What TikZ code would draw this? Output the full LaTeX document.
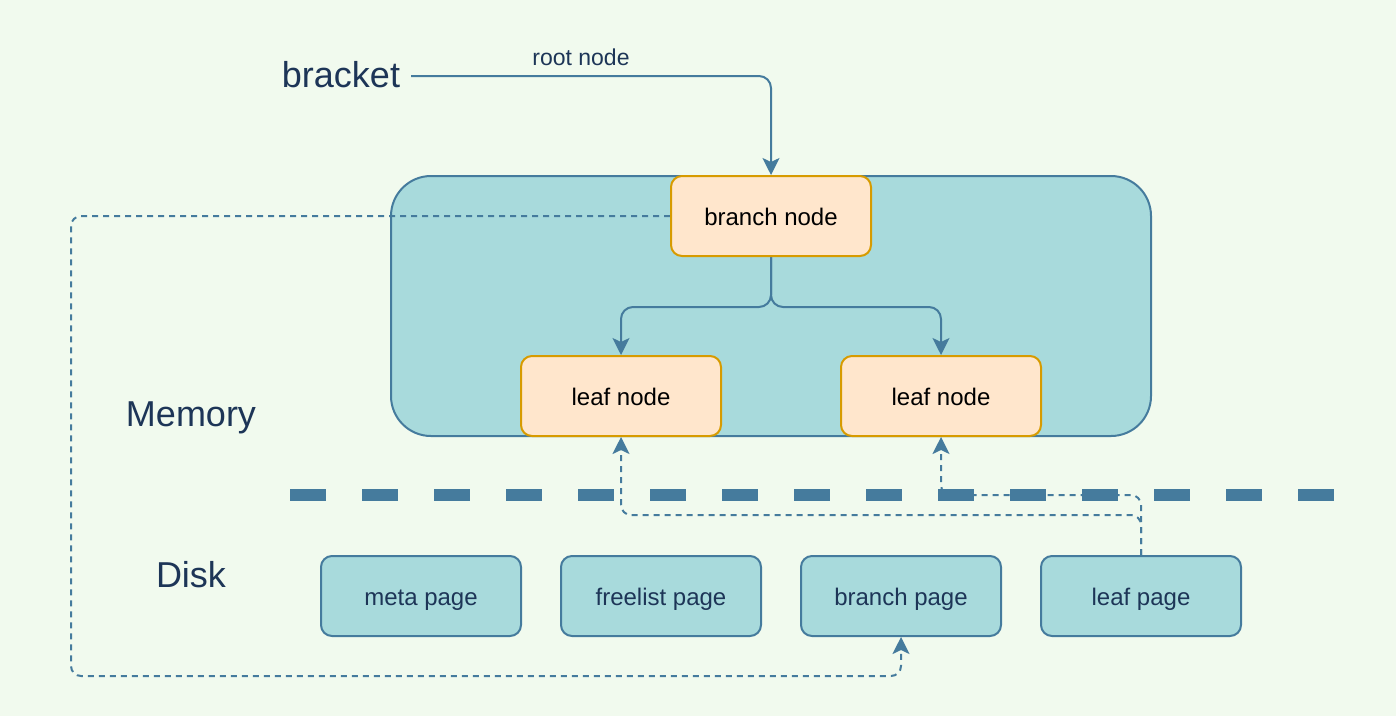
\documentclass[tikz,border=0pt]{standalone}
\usepackage{fontspec}
\setmainfont{Liberation Sans}
\usetikzlibrary{arrows.meta}
\definecolor{bgc}{HTML}{F1FAEE}
\definecolor{tealc}{HTML}{A8DADC}
\definecolor{navyc}{HTML}{457B9D}
\definecolor{inkc}{HTML}{1D3557}
\definecolor{peachc}{HTML}{FFE6CC}
\definecolor{amberc}{HTML}{D79B00}
\pgfdeclarelayer{bglayer}
\pgfdeclarelayer{midlayer}
\pgfsetlayers{bglayer,midlayer,main}
\tikzset{
  container/.style={draw=navyc, fill=tealc, line width=2pt, rounded corners=40pt,
    minimum width=760pt, minimum height=260pt, inner sep=0pt},
  treenode/.style={draw=amberc, fill=peachc, line width=2pt, rounded corners=11pt,
    minimum width=200pt, minimum height=80pt, inner sep=0pt, text=black,
    font=\fontsize{24}{28}\selectfont, text height=19.4pt, text depth=0pt},
  pagebox/.style={draw=navyc, fill=tealc, line width=2pt, rounded corners=11pt,
    minimum width=200pt, minimum height=80pt, inner sep=0pt, text=inkc,
    font=\fontsize{24}{28}\selectfont, text height=19.4pt, text depth=0pt},
  biglabel/.style={text=inkc, font=\fontsize{36}{42}\selectfont, inner sep=0pt,
    text height=25.5pt, text depth=0pt},
  smalllabel/.style={text=inkc, font=\fontsize{23}{27}\selectfont, inner sep=0pt},
  tipstyle/.style={-{Stealth[length=17pt, width=17pt, inset=4pt]}},
  conn/.style={draw=navyc, line width=2pt, rounded corners=12pt, tipstyle},
  dconn/.style={draw=navyc, line width=2pt, rounded corners=10pt,
    dash pattern=on 6pt off 5pt, tipstyle},
}
\begin{document}
\begin{tikzpicture}[x=1pt, y=-1pt]
\begin{pgfonlayer}{bglayer}
\fill[bgc] (0,0) rectangle (1396,716);
\end{pgfonlayer}
\useasboundingbox (0,0) rectangle (1396,716);

% labels
\node[biglabel] (bracket) at (341,75) {bracket};
\node[smalllabel] (rootlbl) at (581,57) {root node};
\node[biglabel] (memory) at (191,414) {Memory};
\node[biglabel] (disk) at (191,575) {Disk};

% memory container
\begin{pgfonlayer}{bglayer}
\node[container] (mem) at (771,306) {};
\end{pgfonlayer}

% separator
\coordinate (sepL) at (290,495);
\coordinate (sepR) at (1334,495);
\begin{pgfonlayer}{bglayer}
\draw[navyc, line width=12pt, dash pattern=on 36pt off 36pt] (sepL) -- (sepR);
\end{pgfonlayer}

% tree nodes
\node[treenode] (bn) at (771,216) {branch node};
\node[treenode] (l1) at (621,396) {leaf node};
\node[treenode] (l2) at (941,396) {leaf node};

% disk pages
\node[pagebox] (mp) at (421,596) {meta page};
\node[pagebox] (fp) at (661,596) {freelist page};
\node[pagebox] (bp) at (901,596) {branch page};
\node[pagebox] (lp) at (1141,596) {leaf page};

% connectors
\coordinate (bstart) at (411,76);
\coordinate (dl1) at (71,216);
\coordinate (dl2) at (71,676);
\begin{pgfonlayer}{midlayer}
\draw[conn] (bstart) -| (bn.north);
\draw[conn] (bn.south) -- ++(0,50) -| (l1.north);
\draw[conn] (bn.south) -- ++(0,50) -| (l2.north);
\draw[dconn] (bn.west) -- (dl1) -- (dl2) -| (bp.south);
\draw[dconn] (lp.north) -- ++(0,-40) -| (l1.south);
\draw[dconn] (lp.north) -- ++(0,-60) -| (l2.south);
\end{pgfonlayer}
\end{tikzpicture}
\end{document}
